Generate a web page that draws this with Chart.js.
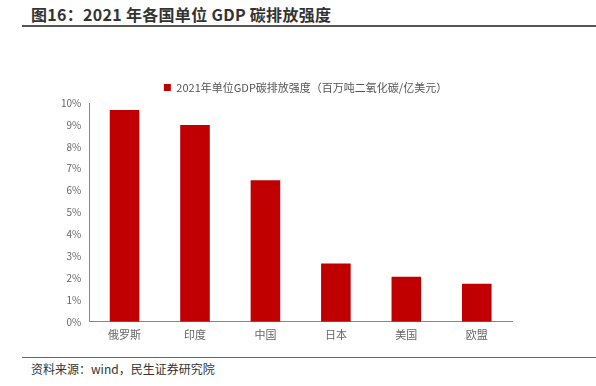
<!DOCTYPE html>
<html>
<head>
<meta charset="utf-8">
<script src="https://cdn.jsdelivr.net/npm/chart.js@4/dist/chart.umd.min.js"></script>
<style>
  body { margin: 0; background: #fff; font-family: "Noto Sans CJK SC", "Noto Sans", sans-serif; }
  #wrap { position: relative; width: 596px; height: 386px; }
  #title { position: absolute; left: 31px; top: 2px; font-size: 16px; letter-spacing: 0.3px; font-weight: bold; color: #333; }
  #topline { position: absolute; left: 22px; top: 25px; width: 574px; height: 0; border-top: 2px solid #555; }
  #botline { position: absolute; left: 22px; top: 357px; width: 574px; height: 0; border-top: 1px solid #666; }
  #source { position: absolute; left: 31px; top: 360px; font-size: 12px; color: #333; }
  #chartBox { position: absolute; left: 0; top: 30px; width: 596px; height: 320px; }
</style>
</head>
<body>
<div id="wrap">
  <div id="title">图16：2021 年各国单位 GDP 碳排放强度</div>
  <div id="topline"></div>
  <div id="chartBox"><canvas id="chart"></canvas></div>
  <div id="botline"></div>
  <div id="source">资料来源：wind，民生证券研究院</div>
</div>
<script>
// categories and values
const countries = ['俄罗斯', '印度', '中国', '日本', '美国', '欧盟'];
const intensity = [9.68, 8.99, 6.47, 2.66, 2.06, 1.74];
const seriesName = '2021年单位GDP碳排放强度（百万吨二氧化碳/亿美元）';

// legend sits a bit right of the plot centre in the original
const legendShift = {
  id: 'legendShift',
  afterLayout(chart) {
    chart.legend.left += 23;
    chart.legend.right += 23;
  },
};

const ctx = document.getElementById('chart').getContext('2d');
new Chart(ctx, {
  type: 'bar',
  data: {
    labels: countries,
    datasets: [{
      label: seriesName,
      data: intensity,
      backgroundColor: '#C00000',
      borderWidth: 0,
      categoryPercentage: 1,
      barPercentage: 0.42,
    }],
  },
  options: {
    responsive: true,
    maintainAspectRatio: false,
    animation: false,
    layout: { padding: { left: 53, right: 84, top: 23, bottom: 3 } },
    plugins: {
      tooltip: { enabled: false },
      legend: {
        position: 'top',
        labels: {
          boxWidth: 7,
          boxHeight: 7,
          color: '#555',
          font: { size: 11, family: '"Noto Sans CJK SC", sans-serif' },
          padding: 29,
        },
      },
    },
    scales: {
      x: {
        grid: { display: false, drawTicks: false },
        border: { color: '#888', width: 1 },
        ticks: { color: '#666', font: { size: 11, family: '"Noto Sans CJK SC", sans-serif' }, padding: 6 },
      },
      y: {
        min: 0,
        max: 10,
        grid: { display: false, drawTicks: false },
        border: { color: '#888', width: 1 },
        ticks: {
          stepSize: 1,
          color: '#666',
          padding: 8,
          font: { size: 10, family: '"Noto Sans CJK SC", sans-serif' },
          callback: (v) => v + '%',
        },
      },
    },
  },
  plugins: [legendShift],
});
</script>
</body>
</html>
